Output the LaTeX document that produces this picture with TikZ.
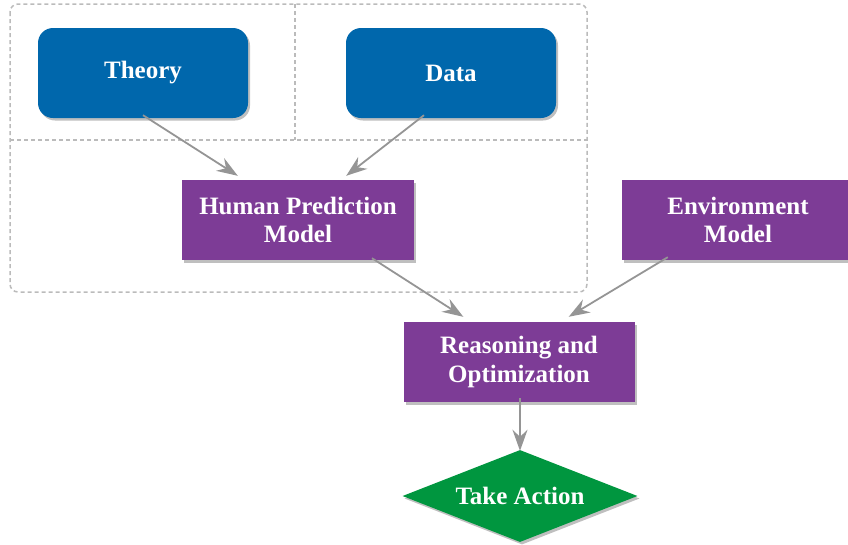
\documentclass[tikz,border=0pt]{standalone}
\usepackage{fontspec}
\setmainfont{Liberation Serif}
\usetikzlibrary{shapes.geometric,shadows,arrows.meta}
\definecolor{boxblue}{HTML}{0067AC}
\definecolor{boxpurple}{HTML}{7D3C96}
\definecolor{boxgreen}{HTML}{00963F}
\definecolor{arrgray}{HTML}{959595}
\definecolor{dashgray}{HTML}{BBBBBB}
\tikzset{
  shad/.style={drop shadow={shadow xshift=2pt,shadow yshift=-2.5pt,opacity=0.25,fill=black}},
  txt/.style={text=white,font=\fontsize{25}{28.5}\selectfont\bfseries,align=center},
  bluebox/.style={txt,shad,fill=boxblue,rounded corners=15pt,minimum width=210pt,minimum height=90pt,inner sep=0pt},
  purplebox/.style={txt,shad,fill=boxpurple,minimum width=232pt,minimum height=80pt,inner sep=0pt},
  actionshape/.style={txt,shad,diamond,fill=boxgreen,shape aspect=2.6,minimum width=235pt,minimum height=92pt,inner sep=0pt},
  arr/.style={draw=arrgray,line width=1.8pt,-{Stealth[length=21pt,width=15pt,inset=7pt]}},
  dashline/.style={draw=dashgray,line width=1.5pt,dash pattern=on 4pt off 3pt},
}
\begin{document}
\begin{tikzpicture}[x=1pt,y=-1pt]
\useasboundingbox (0,0) rectangle (848,544);
% dashed group
\draw[dashline,rounded corners=8pt] (10,4) rectangle (587,292);
\coordinate (vtop) at (295,4);
\coordinate (vbot) at (295,140);
\coordinate (hl) at (10,140);
\coordinate (hr) at (587,140);
\draw[dashline] (vtop) -- (vbot);
\draw[dashline] (hl) -- (hr);
% nodes
\node[bluebox] (theory) at (143,73) {Theory};
\node[bluebox] (data) at (451,73) {Data};
\node[purplebox] (hpm) at (298,220) {Human Prediction\\Model};
\node[purplebox] (env) at (738,220) {Environment\\Model};
\node[purplebox,minimum width=231pt] (reason) at (519,362) {Reasoning and\\Optimization};
\node[actionshape] (act) at (520,496) {Take Action};
% connectors
\draw[arr] ([yshift=3pt]theory.south) -- ([xshift=56pt,yshift=4pt]hpm.north west);
\draw[arr] ([xshift=-27pt,yshift=3pt]data.south) -- ([xshift=-68pt,yshift=4pt]hpm.north east);
\draw[arr] ([xshift=74pt,yshift=2pt]hpm.south) -- ([xshift=60pt,yshift=5pt]reason.north west);
\draw[arr] ([xshift=46pt,yshift=3pt]env.south west) -- ([xshift=-66pt,yshift=5pt]reason.north east);
\draw[arr] ([xshift=1pt,yshift=4pt]reason.south) -- ([xshift=0pt,yshift=-1pt]act.north);
\end{tikzpicture}
\end{document}
